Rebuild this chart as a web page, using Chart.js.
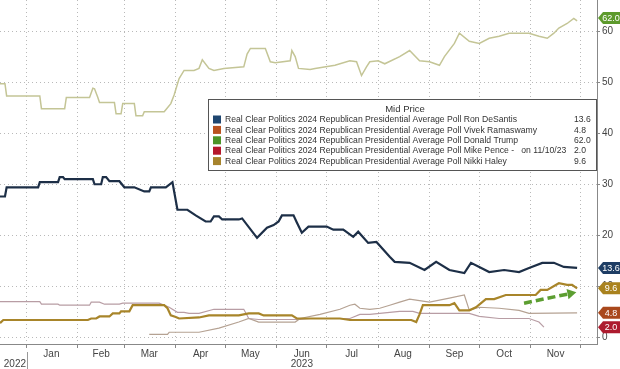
<!DOCTYPE html>
<html>
<head>
<meta charset="utf-8">
<script src="https://cdn.jsdelivr.net/npm/chart.js@4.4.0/dist/chart.umd.min.js"></script>
<style>
  html, body { margin: 0; padding: 0; background: #fff; }
  #wrap { width: 620px; height: 369px; position: relative; }
</style>
</head>
<body>
<div id="wrap"><canvas id="chart"></canvas></div>
<script>
// x values are days counted from 1 Jan 2023
const desantis = [[-16,27.6],[-13,27.6],[-12,29.4],[7,29.4],[8,30.4],[19,30.4],[20,31.4],[22,31.4],[23,31.0],[40,31.0],[41,30.0],[45,30.0],[46,31.4],[48,31.4],[50,30.6],[56,30.6],[59,29.4],[65,29.4],[71,28.6],[74,28.6],[75,29.4],[84,29.4],[88,30.4],[91,25.0],[97,25.0],[102,23.9],[108,22.7],[111,22.7],[113,23.7],[116,23.7],[118,23.1],[128,23.1],[130,23.3],[139,19.5],[145,21.5],[149,22.0],[152,22.7],[154,23.9],[161,23.9],[163,22.5],[166,20.5],[170,21.7],[181,21.7],[185,21.1],[191,21.1],[197,19.7],[200,20.7],[206,18.5],[211,18.7],[219,15.8],[222,14.8],[231,14.6],[240,13.2],[247,14.8],[255,13.2],[264,12.6],[268,14.6],[273,13.8],[279,12.8],[288,13.2],[297,12.8],[303,13.6],[311,14.6],[318,14.6],[324,13.8],[332,13.6]];

const ramaswamy = [[74,0.6],[85,0.6],[86,1.0],[104,1.0],[116,1.8],[128,3.0],[134,3.7],[140,3.0],[162,3.0],[165,3.7],[177,4.5],[189,5.5],[195,6.3],[198,6.5],[201,5.7],[207,5.5],[213,5.7],[219,6.3],[225,6.9],[231,7.5],[243,6.9],[255,7.7],[264,8.3],[267,5.3],[273,5.9],[285,5.7],[297,5.3],[303,4.7],[332,4.8]];

const trump = [[-16,49.7],[-13,49.7],[-12,47.3],[8,47.3],[9,44.8],[23,44.8],[24,47.0],[38,47.0],[40,48.8],[41,48.7],[43,47.0],[44,46.0],[53,46.0],[54,43.8],[57,43.8],[58,45.8],[65,45.8],[66,43.4],[70,43.4],[71,44.2],[83,44.2],[84,44.6],[87,45.8],[89,47.5],[92,50.7],[95,52.3],[101,52.3],[104,52.7],[106,54.4],[110,52.7],[113,52.3],[119,52.7],[131,53.0],[133,55.5],[135,56.6],[144,56.6],[147,54.0],[150,53.8],[159,54.2],[160,56.2],[162,55.0],[164,52.7],[171,52.5],[174,52.7],[186,53.3],[195,54.2],[199,54.0],[202,51.3],[205,53.0],[207,54.0],[212,54.2],[216,53.6],[225,55.0],[231,56.2],[237,54.2],[243,54.0],[249,53.3],[252,55.0],[258,57.6],[261,59.6],[267,58.0],[273,57.6],[279,58.6],[285,59.0],[291,59.6],[297,59.6],[303,59.6],[309,59.0],[314,58.6],[318,59.6],[321,60.6],[326,61.5],[330,62.5],[332,62.0]];

const pence = [[-16,7.0],[8,7.0],[9,6.5],[19,6.5],[20,6.3],[38,6.3],[39,6.9],[44,6.9],[47,6.5],[56,6.5],[58,6.7],[80,6.7],[86,5.9],[91,4.9],[95,4.9],[98,4.7],[104,4.7],[113,5.5],[131,5.5],[134,3.7],[140,3.5],[165,3.5],[171,3.7],[195,3.7],[201,4.5],[207,4.5],[213,4.7],[225,5.1],[233,5.1],[237,4.7],[267,4.7],[273,4.1],[285,3.7],[303,3.7],[309,3.0],[312,2.0]];

const haley = [[-16,2.8],[-14,3.4],[37,3.4],[39,3.7],[42,3.7],[44,4.1],[50,4.1],[52,4.7],[56,4.7],[57,5.1],[62,5.1],[64,6.3],[83,6.3],[85,5.7],[87,4.3],[90,4.0],[92,3.7],[104,3.9],[110,4.3],[128,4.3],[134,4.7],[140,4.7],[143,4.3],[160,4.3],[163,3.7],[189,3.7],[195,3.4],[232,3.4],[235,3.0],[237,4.5],[239,6.3],[255,6.3],[258,6.7],[261,5.3],[267,5.3],[271,5.9],[277,7.5],[282,7.5],[289,8.3],[307,8.3],[310,9.3],[314,9.3],[321,10.6],[326,10.3],[329,10.3],[332,9.6]];

// green dashed arrow drawn on the chart
const arrow = [[300,6.7],[328,8.6]];

const monthStarts = [0,31,59,90,120,151,181,212,243,273,304,334];
const monthMids = [15,45,74,105,135,166,196,227,258,288,319];
const monthNames = ['Jan','Feb','Mar','Apr','May','Jun','Jul','Aug','Sep','Oct','Nov'];
const yearTicks = [[-7,'2022'],[166,'2023']];
const yTicks = [0,10,20,30,40,50,60];

const legendTitle = 'Mid Price';
const legendNames = [
  'Real Clear Politics 2024 Republican Presidential Average Poll Ron DeSantis',
  'Real Clear Politics 2024 Republican Presidential Average Poll Vivek Ramaswamy',
  'Real Clear Politics 2024 Republican Presidential Average Poll Donald Trump',
  'Real Clear Politics 2024 Republican Presidential Average Poll Mike Pence -   on 11/10/23',
  'Real Clear Politics 2024 Republican Presidential Average Poll Nikki Haley'
];
const legendValues = ['13.6','4.8','62.0','2.0','9.6'];
const legendColors = ['#1f4670','#b9521f','#4c9428','#b5172b','#a6832c'];
const tagColors = ['#1e3d64','#a9481c','#5d9a2c','#ad1b2e','#a9821e'];
const tagShift = [0, 0, -3, 0, 0];

const series = [desantis, ramaswamy, trump, pence, haley];
const pts = a => a.map(p => ({x: p[0], y: p[1]}));
const FONT = '"Liberation Sans", Arial, sans-serif';

const overlay = {
  id: 'overlay',
  afterDatasetsDraw(chart) {
    const ctx = chart.ctx;
    ctx.save();
    // legend box
    const bx = 208, by = 99, bw = 388, bh = 71;
    ctx.fillStyle = '#fff';
    ctx.fillRect(bx, by, bw, bh);
    ctx.strokeStyle = '#555';
    ctx.lineWidth = 1;
    ctx.strokeRect(bx + 0.5, by + 0.5, bw, bh);
    ctx.font = '9.5px ' + FONT;
    ctx.textBaseline = 'middle';
    const k = 292 / ctx.measureText(legendNames[0]).width;
    ctx.fillStyle = '#333';
    ctx.textAlign = 'center';
    ctx.fillText(legendTitle, 405, 109.5);
    ctx.textAlign = 'left';
    legendNames.forEach((n, i) => {
      const y = 119.5 + i * 10.4;
      ctx.fillStyle = legendColors[i];
      ctx.fillRect(213, y - 4, 8, 8);
      ctx.fillStyle = '#333';
      ctx.save();
      ctx.translate(225, y);
      ctx.scale(k, 1);
      ctx.fillText(n, 0, 0);
      ctx.restore();
      ctx.save();
      ctx.translate(574, y);
      ctx.scale(k, 1);
      ctx.fillText(legendValues[i], 0, 0);
      ctx.restore();
    });
    ctx.restore();
  },
  afterDraw(chart) {
    const ctx = chart.ctx;
    const ys = chart.scales.y, xs = chart.scales.x;
    ctx.save();
    // year separator
    const sx = Math.round(xs.getPixelForValue(0)) + 0.5;
    ctx.strokeStyle = '#999';
    ctx.lineWidth = 1;
    ctx.beginPath();
    ctx.moveTo(sx, 352);
    ctx.lineTo(sx, 369);
    ctx.stroke();
    // last value tags
    ctx.font = '9px ' + FONT;
    ctx.textAlign = 'center';
    ctx.textBaseline = 'middle';
    series.forEach((s, i) => {
      const v = s[s.length - 1][1];
      const y = ys.getPixelForValue(v) + tagShift[i];
      const x0 = chart.chartArea.right + 1;
      ctx.fillStyle = tagColors[i];
      ctx.beginPath();
      ctx.moveTo(x0, y);
      ctx.lineTo(x0 + 5, y - 6);
      ctx.lineTo(620, y - 6);
      ctx.lineTo(620, y + 6);
      ctx.lineTo(x0 + 5, y + 6);
      ctx.closePath();
      ctx.fill();
      ctx.fillStyle = '#fff';
      ctx.fillText(v.toFixed(1), x0 + 13, y + 0.5);
    });
    ctx.restore();
  }
};

const noPad = s => { s.paddingLeft = 0; s.paddingRight = 0; s.paddingTop = 0; s.paddingBottom = 0; };

const thin = (data, color) => ({
  data: pts(data), borderColor: color, borderWidth: 1.2,
  pointRadius: 0, tension: 0
});

new Chart(document.getElementById('chart'), {
  type: 'line',
  data: {
    datasets: [
      {
        data: pts(arrow), borderColor: '#5c9e31', backgroundColor: '#5c9e31',
        borderWidth: 3.5, borderDash: [8, 4], tension: 0,
        pointRadius: [0, 6], pointStyle: 'triangle', pointRotation: 79,
        pointBorderWidth: 0
      },
      { data: pts(trump), borderColor: '#c4c596', borderWidth: 1.5, pointRadius: 0, tension: 0 },
      { data: pts(desantis), borderColor: '#1d2f47', borderWidth: 2.2, pointRadius: 0, tension: 0 },
      { data: pts(haley), borderColor: '#a8852a', borderWidth: 2.2, pointRadius: 0, tension: 0 },
      thin(ramaswamy, '#b5a293'),
      thin(pence, '#b89da4')
    ]
  },
  options: {
    responsive: true,
    maintainAspectRatio: false,
    devicePixelRatio: 1,
    animation: false,
    layout: { padding: 0, autoPadding: false },
    plugins: { legend: { display: false }, tooltip: { enabled: false } },
    scales: {
      x: {
        type: 'linear',
        min: -16,
        max: 344,
        afterBuildTicks: s => {
          const t = monthStarts.map(v => ({value: v}))
            .concat(monthMids.map(v => ({value: v})))
            .concat([{value: yearTicks[0][0]}]);
          s.ticks = t.sort((a, b) => a.value - b.value);
        },
        afterFit: s => { s.height = 25; noPad(s); },
        grid: {
          color: c => (c.tick && monthStarts.includes(c.tick.value)) ? '#b9b9b9' : 'rgba(0,0,0,0)',
          tickColor: c => (c.tick && monthStarts.includes(c.tick.value)) ? '#888' : 'rgba(0,0,0,0)',
          tickLength: 4,
          tickBorderDash: []
        },
        border: { color: '#888', width: 1, dash: [1, 3] },
        ticks: {
          autoSkip: false,
          maxRotation: 0,
          padding: 1,
          color: '#444',
          font: { family: FONT, size: 10, lineHeight: 1.0 },
          callback: v => {
            const mi = monthMids.indexOf(v);
            if (v === yearTicks[0][0]) return ['', yearTicks[0][1]];
            if (mi < 0) return '';
            if (v === yearTicks[1][0]) return [monthNames[mi], yearTicks[1][1]];
            return monthNames[mi];
          }
        }
      },
      y: {
        position: 'right',
        min: -1.3,
        max: 66.1,
        afterBuildTicks: s => { s.ticks = yTicks.map(v => ({value: v})); },
        afterFit: s => { s.width = 23; noPad(s); },
        grid: { color: '#b9b9b9', tickColor: '#888', tickLength: 3, tickBorderDash: [] },
        border: { color: '#888', width: 1, dash: [1, 3] },
        ticks: {
          padding: 2,
          color: '#444',
          font: { family: FONT, size: 10 }
        }
      }
    }
  },
  plugins: [overlay]
});
</script>
</body>
</html>
